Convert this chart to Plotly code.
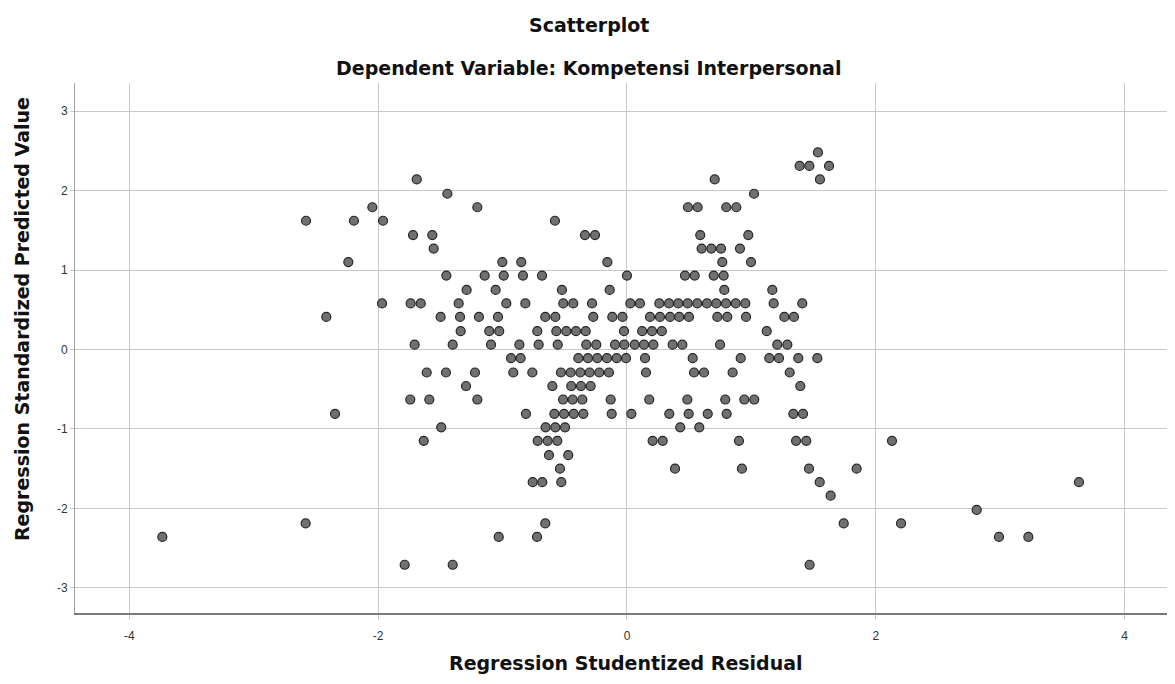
import plotly.graph_objects as go

# Regression Studentized Residual (x) and Regression Standardized Predicted Value (y)
studentized_residual = [
    # 2.48
    1.535,
    # 2.31
    1.388, 1.466, 1.624,
    # 2.14
    -1.690, 0.705, 1.551,
    # 1.96
    -1.444, 1.021,
    # 1.79
    -2.047, -1.203, 0.490, 0.568, 0.798, 0.879,
    # 1.62
    -2.580, -2.195, -1.961, -0.579,
    # 1.44
    -1.720, -1.565, -0.338, -0.257, 0.589, 0.975,
    # 1.27
    -1.554, 0.600, 0.678, 0.756, 0.908,
    # 1.10
    -2.240, -1.002, -0.850, -0.158, 0.766, 0.997,
    # 0.93
    -1.452, -1.144, -0.991, -0.836, -0.683, 0.000, 0.466, 0.544, 0.697, 0.777,
    # 0.75
    -1.289, -1.056, -0.523, -0.139, 0.782, 1.168,
    # 0.58
    -1.969, -1.739, -1.658, -1.353, -0.970, -0.817, -0.512, -0.432, -0.281, 0.027,
    0.104, 0.260, 0.338, 0.412, 0.488, 0.565, 0.643, 0.718, 0.796, 0.874, 0.951,
    1.179, 1.409,
    # 0.41
    -2.417, -1.498, -1.342, -1.190, -1.037, -0.657, -0.576, -0.271, -0.118, -0.036,
    0.185, 0.265, 0.346, 0.420, 0.498, 0.726, 0.806, 0.957, 1.265, 1.342,
    # 0.23
    -1.337, -1.107, -1.027, -0.721, -0.568, -0.488, -0.410, -0.332, -0.024, 0.122,
    0.201, 0.280, 1.123,
    # 0.06
    -1.707, -1.401, -1.093, -0.865, -0.710, -0.557, -0.327, -0.247, -0.096, -0.022,
    0.062, 0.137, 0.212, 0.367, 0.445, 0.748, 1.208, 1.289,
    # -0.11
    -0.932, -0.855, -0.391, -0.314, -0.239, -0.161, -0.083, -0.008, 0.145, 0.528,
    0.914, 1.144, 1.222, 1.377, 1.530,
    # -0.29
    -1.610, -1.455, -1.222, -0.914, -0.761, -0.531, -0.453, -0.375, -0.300, -0.223,
    -0.145, 0.153, 0.539, 0.619, 0.849, 1.308,
    # -0.46
    -1.294, -0.600, -0.448, -0.370, -0.292, 1.393,
    # -0.63
    -1.742, -1.589, -1.203, -0.514, -0.437, -0.359, -0.131, 0.179, 0.485, 0.790,
    0.943, 1.023,
    # -0.81
    -2.347, -0.812, -0.584, -0.506, -0.428, -0.351, -0.123, 0.035, 0.340, 0.496,
    0.649, 0.801, 1.337, 1.415,
    # -0.98
    -1.493, -0.654, -0.576, -0.498, 0.428, 0.581,
    # -1.15
    -1.634, -0.718, -0.638, -0.560, 0.206, 0.287, 0.900, 1.359, 1.441, 2.130,
    # -1.33
    -0.627, -0.472,
    # -1.50
    -0.539, 0.386, 0.924, 1.463, 1.846,
    # -1.67
    -0.758, -0.681, -0.528, 1.549, 3.633,
    # -1.84
    1.637,
    # -2.02
    2.811,
    # -2.19
    -2.583, -0.657, 1.742, 2.203,
    # -2.36
    -3.735, -1.031, -0.723, 2.990, 3.226,
    # -2.71
    -1.787, -1.401, 1.468,
]

standardized_predicted = (
    [2.48] * 1 + [2.31] * 3 + [2.14] * 3 + [1.96] * 2 + [1.79] * 6 + [1.62] * 4
    + [1.44] * 6 + [1.27] * 5 + [1.10] * 6 + [0.93] * 10 + [0.75] * 6 + [0.58] * 23
    + [0.41] * 20 + [0.23] * 13 + [0.06] * 18 + [-0.11] * 15 + [-0.29] * 16
    + [-0.46] * 6 + [-0.63] * 12 + [-0.81] * 14 + [-0.98] * 6 + [-1.15] * 10
    + [-1.33] * 2 + [-1.50] * 5 + [-1.67] * 5 + [-1.84] * 1 + [-2.02] * 1
    + [-2.19] * 4 + [-2.36] * 5 + [-2.71] * 3
)

x_ticks = [-4, -2, 0, 2, 4]
y_ticks = [-3, -2, -1, 0, 1, 2, 3]

title_text = "Scatterplot"
subtitle_text = "Dependent Variable: Kompetensi Interpersonal"
x_title = "Regression Studentized Residual"
y_title = "Regression Standardized Predicted Value"

FONT = "Liberation Sans, Arial, sans-serif"
TITLE_FONT = "DejaVu Sans, Liberation Sans, sans-serif"

fig = go.Figure()
fig.add_trace(go.Scatter(
    x=studentized_residual,
    y=standardized_predicted,
    mode="markers",
    marker=dict(size=9, color="#707070", line=dict(color="#262626", width=1.2)),
    hoverinfo="x+y",
    showlegend=False,
))

fig.update_layout(
    width=1175, height=684,
    margin=dict(l=67, r=8, t=75, b=79),
    paper_bgcolor="white", plot_bgcolor="white",
    font=dict(family=FONT, color="#222222"),
)

fig.update_xaxes(
    range=[-4.437, 4.405],
    tickvals=x_ticks, ticktext=[str(v) for v in x_ticks],
    showgrid=True, gridcolor="#c9c9c9", gridwidth=1,
    zeroline=False,
    showline=True, linecolor="#7a7a7a", linewidth=1.5,
    ticks="outside", ticklen=5, tickcolor="#c9c9c9",
    ticklabelstandoff=6,
    tickfont=dict(size=12, color="#333333", family=FONT),
)
fig.update_yaxes(
    range=[-3.317, 3.354],
    tickvals=y_ticks, ticktext=[str(v) for v in y_ticks],
    showgrid=True, gridcolor="#c9c9c9", gridwidth=1,
    zeroline=False,
    showline=True, linecolor="#a0a0a0", linewidth=1,
    ticks="outside", ticklen=4, tickcolor="#c9c9c9",
    tickfont=dict(size=12, color="#333333", family=FONT),
)

annotations = [
    dict(text="<b>" + title_text + "</b>", x=0.467, y=1.109, font=dict(size=19)),
    dict(text="<b>" + subtitle_text + "</b>", x=0.467, y=1.028, font=dict(size=19)),
    dict(text="<b>" + x_title + "</b>", x=0.501, y=-0.094, font=dict(size=19)),
    dict(text="<b>" + y_title + "</b>", x=-0.048, y=0.555, font=dict(size=19), textangle=-90),
]
for a in annotations:
    a.update(xref="paper", yref="paper", xanchor="center", yanchor="middle",
             showarrow=False)
    a["font"].update(family=TITLE_FONT, color="#111111")
fig.update_layout(annotations=annotations)

fig.write_html("out.html")
